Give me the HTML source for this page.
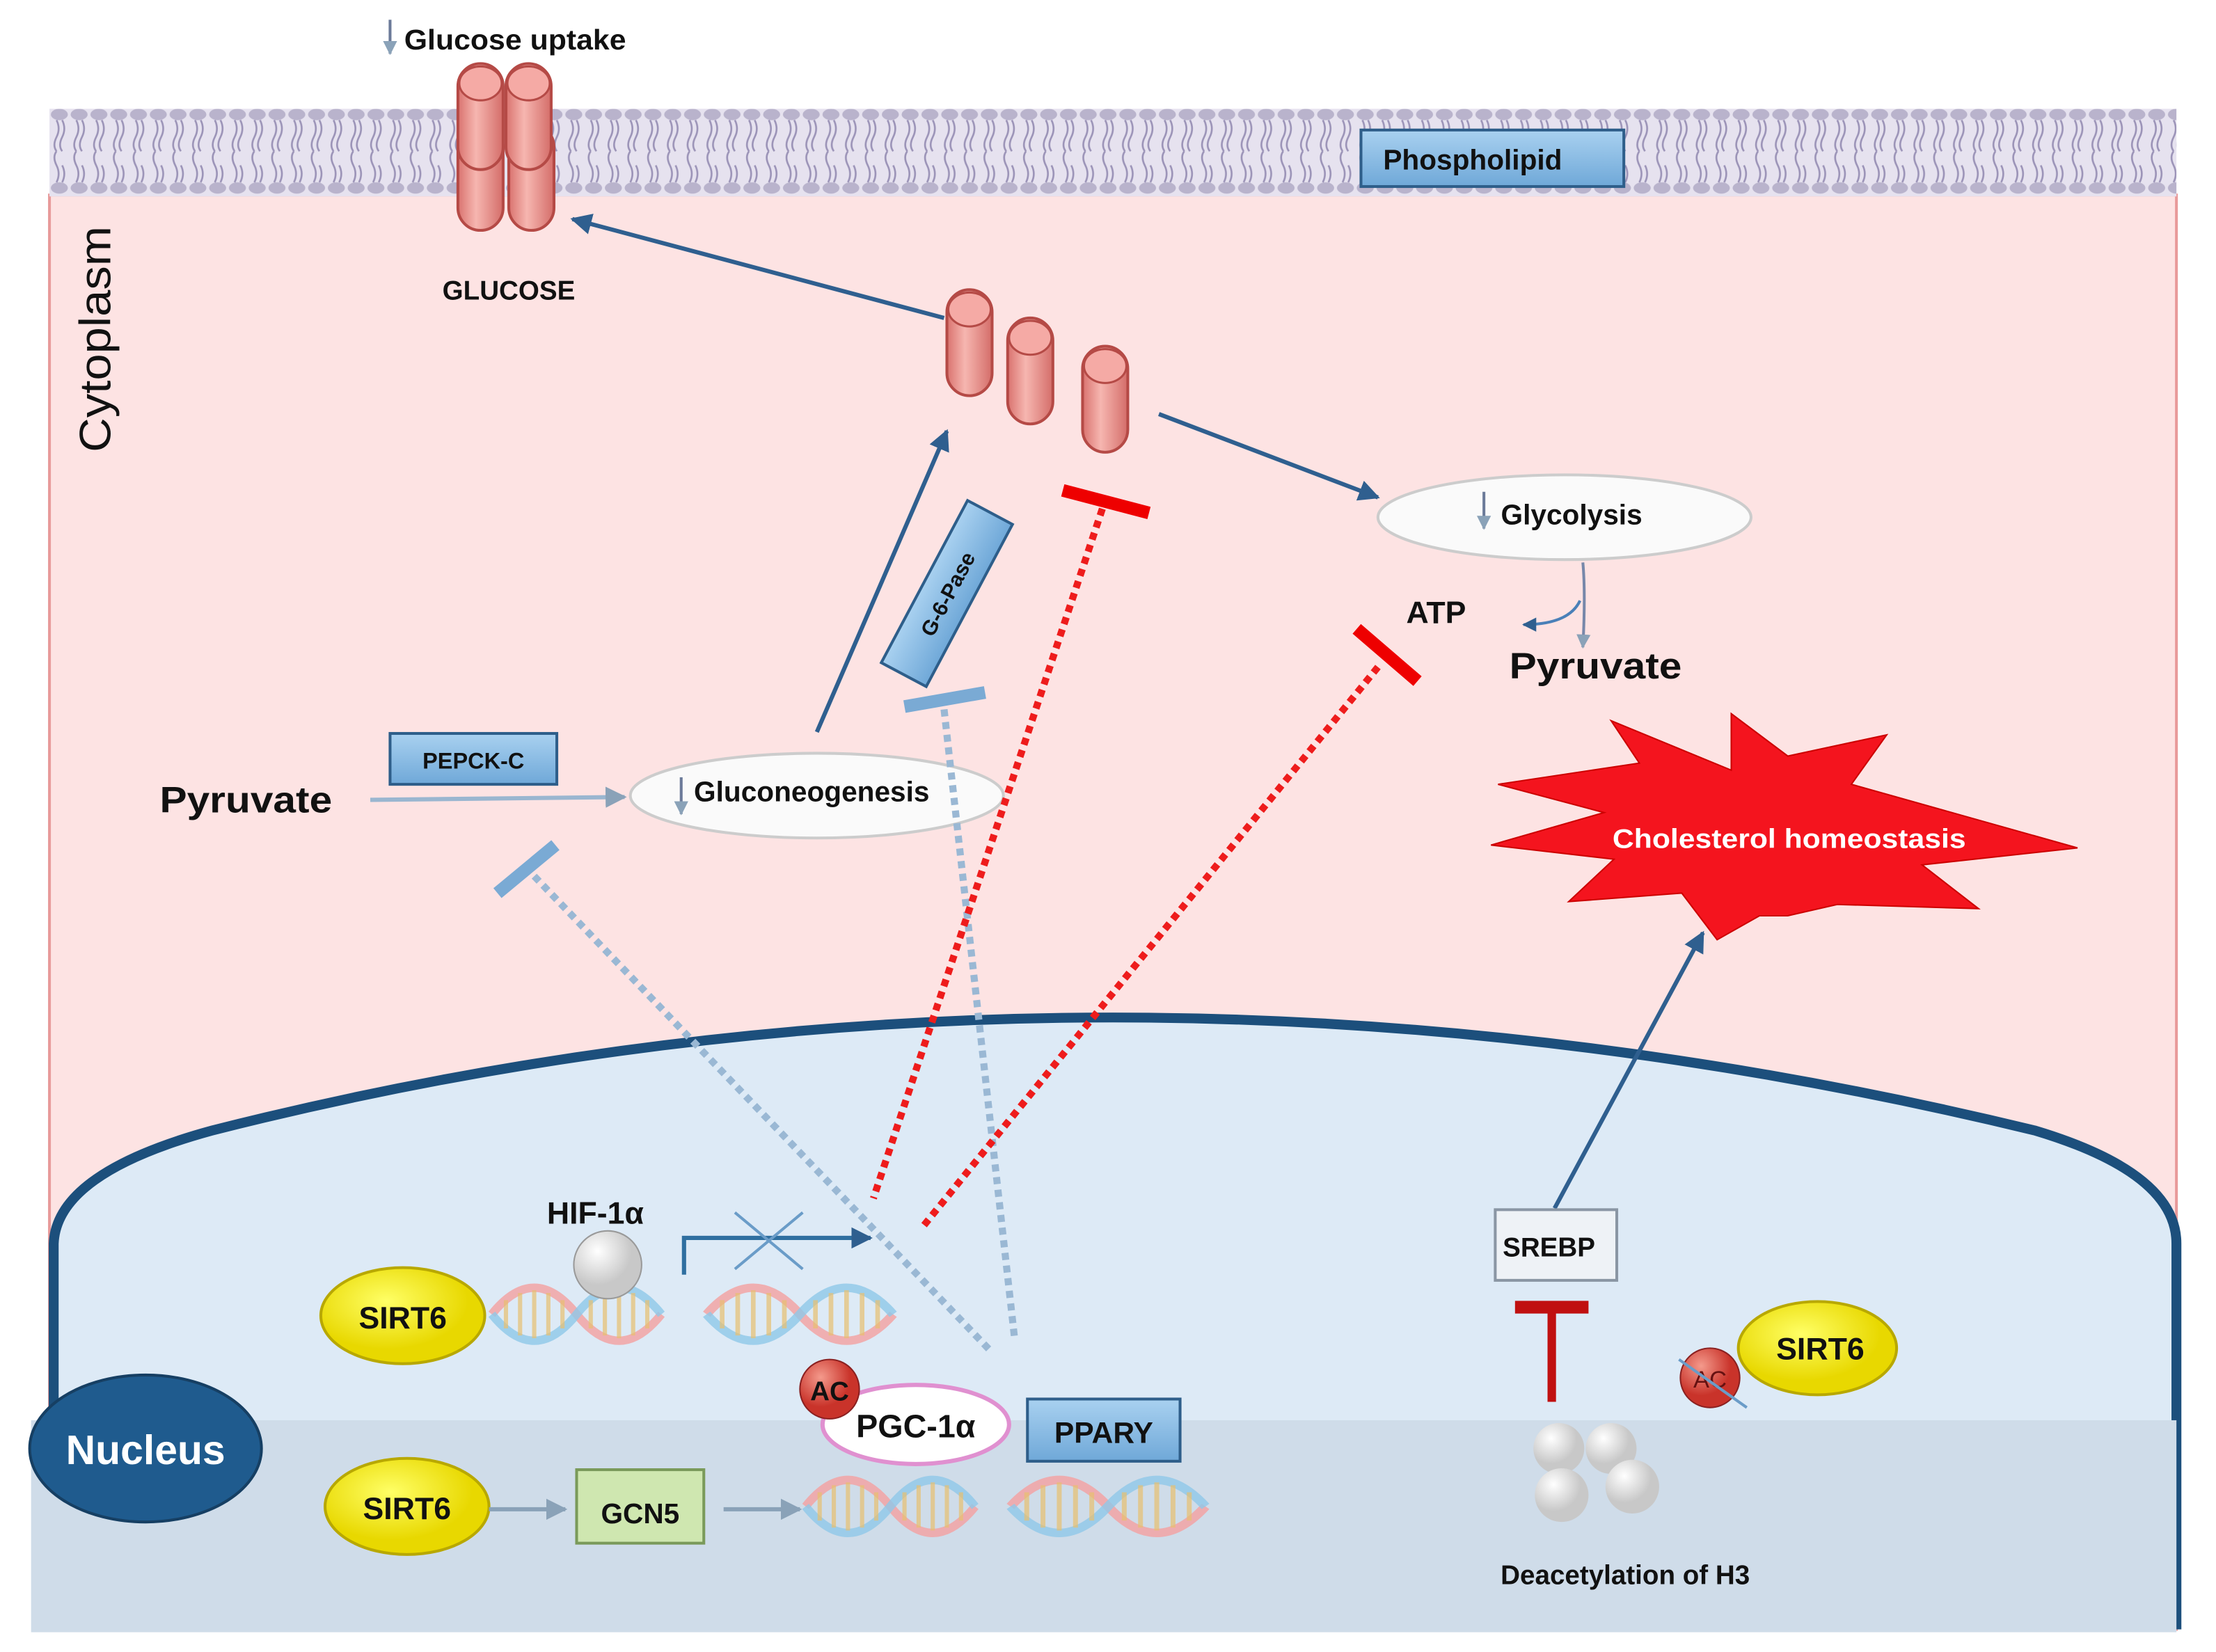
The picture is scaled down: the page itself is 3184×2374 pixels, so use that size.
<!DOCTYPE html>
<html><head><meta charset="utf-8"><style>
html,body{margin:0;padding:0;background:#fff}
svg{display:block}
text{font-family:"Liberation Sans",sans-serif}
.b{font-weight:bold}
</style></head><body>
<svg width="3184" height="2374" viewBox="0 0 1568 1169" preserveAspectRatio="none" xmlns="http://www.w3.org/2000/svg">
<defs>
<pattern id="lip" x="35" y="75" width="14" height="64" patternUnits="userSpaceOnUse">
<rect width="14" height="64" fill="#e6e2ef"/>
<ellipse cx="7" cy="6" rx="6" ry="4" fill="#b9b3cc"/>
<ellipse cx="7" cy="58" rx="6" ry="4" fill="#b9b3cc"/>
<path d="M5 10 q3 6 0 12 q-3 6 0 10 M9 10 q3 6 0 12 q-3 6 0 10 M5 54 q3-6 0-12 q-3-6 0-10 M9 54 q3-6 0-12" stroke="#9c94b8" stroke-width="1.3" fill="none"/>
</pattern>
<linearGradient id="cyl" x1="0" x2="1"><stop offset="0" stop-color="#d9726e"/><stop offset="0.4" stop-color="#f6b6b0"/><stop offset="1" stop-color="#d46d69"/></linearGradient>
<linearGradient id="blu" x1="0" y1="0" x2="0" y2="1"><stop offset="0" stop-color="#a9d1f0"/><stop offset="1" stop-color="#6fa8d8"/></linearGradient>
<radialGradient id="yel" cx="0.4" cy="0.35"><stop offset="0" stop-color="#ffff66"/><stop offset="1" stop-color="#e8d800"/></radialGradient>
<radialGradient id="wb" cx="0.35" cy="0.3"><stop offset="0" stop-color="#fff"/><stop offset="1" stop-color="#c8c8c8"/></radialGradient>
<radialGradient id="rb" cx="0.35" cy="0.3"><stop offset="0" stop-color="#f49a8c"/><stop offset="1" stop-color="#c9332a"/></radialGradient>
<marker id="ar" viewBox="0 0 10 10" refX="9" refY="5" markerWidth="5" markerHeight="5" orient="auto"><path d="M0 0 L10 5 L0 10 z" fill="#2f5f8f"/></marker>
<marker id="ag" viewBox="0 0 10 10" refX="9" refY="5" markerWidth="5" markerHeight="5" orient="auto"><path d="M0 0 L10 5 L0 10 z" fill="#8aa2b8"/></marker>
<g id="dna">
<path d="M0 20 C20 -5 40 -5 60 20 S100 45 120 20" stroke="#f4a0a0" stroke-width="6" fill="none" opacity="0.8"/>
<path d="M0 20 C20 45 40 45 60 20 S100 -5 120 20" stroke="#8ec8e8" stroke-width="6" fill="none" opacity="0.8"/>
<path d="M10 10v20M20 5v30M30 3v34M40 5v30M50 10v20M70 10v20M80 5v30M90 3v34M100 5v30M110 10v20" stroke="#e8c070" stroke-width="3" opacity="0.7"/>
</g>
<g id="ch"><rect x="-16" y="0" width="32" height="75" rx="16" fill="url(#cyl)" stroke="#b54a46" stroke-width="2"/><ellipse cx="0" cy="14" rx="15" ry="12" fill="#f5aaa5" stroke="#b54a46" stroke-width="1.5"/></g>
</defs>
<rect width="1568" height="1169" fill="#fff"/>
<rect x="35" y="138" width="1505" height="1015" fill="#fde3e3" stroke="#e89a9a" stroke-width="2"/>
<rect x="35" y="77" width="1505" height="62" fill="url(#lip)"/>
<path d="M38 1153 L38 880 Q40 830 150 800 Q780 640 1440 800 Q1540 830 1540 880 L1540 1153" fill="#ddeaf6" stroke="#1c4f7c" stroke-width="7"/>
<rect x="22" y="1005" width="1518" height="150" fill="#cfdce9"/>
<ellipse cx="103" cy="1025" rx="82" ry="52" fill="#1f5b8e" stroke="#163f63" stroke-width="2"/>
<text x="103" y="1036" font-size="29" fill="#fff" class="b" text-anchor="middle">Nucleus</text>
<text x="78" y="240" font-size="31" fill="#111" text-anchor="middle" transform="rotate(-90 78 240)" textLength="160" lengthAdjust="spacingAndGlyphs">Cytoplasm</text>
<path d="M276 14 v24" stroke="#6b7a99" stroke-width="2" marker-end="url(#ag)"/>
<text x="286" y="35" font-size="20" class="b" fill="#111" textLength="157" lengthAdjust="spacingAndGlyphs">Glucose uptake</text>
<use href="#ch" x="340" y="88"/><use href="#ch" x="376" y="88"/>
<use href="#ch" x="340" y="45"/><use href="#ch" x="374" y="45"/>
<text x="360" y="212" font-size="19" class="b" text-anchor="middle" fill="#111">GLUCOSE</text>
<rect x="963" y="92" width="186" height="40" fill="url(#blu)" stroke="#2e5e8a" stroke-width="2"/>
<text x="1042" y="120" font-size="20" class="b" text-anchor="middle" fill="#111">Phospholipid</text>
<use href="#ch" x="686" y="205"/><use href="#ch" x="729" y="225"/><use href="#ch" x="782" y="245"/>
<path d="M668 225 L405 155" stroke="#2f5f8f" stroke-width="3" marker-end="url(#ar)"/>
<path d="M820 293 L975 352" stroke="#2f5f8f" stroke-width="3" marker-end="url(#ar)"/>
<path d="M578 518 L670 305" stroke="#2f5f8f" stroke-width="3" marker-end="url(#ar)"/>
<ellipse cx="1107" cy="366" rx="132" ry="30" fill="#fafafa" stroke="#ccc" stroke-width="2"/>
<path d="M1050 348 v26" stroke="#6b7a99" stroke-width="2" marker-end="url(#ag)"/>
<text x="1062" y="371" font-size="20" class="b" fill="#111">Glycolysis</text>
<path d="M1120 398 Q1122 420 1120 458" stroke="#7788aa" stroke-width="2" fill="none" marker-end="url(#ag)"/>
<path d="M1118 425 Q1110 442 1078 442" stroke="#4a80b8" stroke-width="2" fill="none" marker-end="url(#ar)"/>
<text x="995" y="441" font-size="22" class="b" fill="#111">ATP</text>
<text x="1068" y="480" font-size="26" class="b" fill="#111" textLength="122" lengthAdjust="spacingAndGlyphs">Pyruvate</text>
<g transform="translate(670 420) rotate(-62)"><rect x="-65" y="-18" width="130" height="36" fill="url(#blu)" stroke="#2e5e8a" stroke-width="2"/><text x="0" y="6" font-size="15" class="b" text-anchor="middle" fill="#111">G-6-Pase</text></g>
<path d="M640 500 L697 490" stroke="#7aaad4" stroke-width="9"/>
<text x="113" y="575" font-size="26" class="b" fill="#111" textLength="122" lengthAdjust="spacingAndGlyphs">Pyruvate</text>
<rect x="276" y="519" width="118" height="36" fill="url(#blu)" stroke="#2e5e8a" stroke-width="2"/>
<text x="335" y="544" font-size="16" class="b" text-anchor="middle" fill="#111">PEPCK-C</text>
<path d="M262 566 L442 564" stroke="#9ab6d0" stroke-width="3" marker-end="url(#ag)"/>
<ellipse cx="578" cy="563" rx="132" ry="30" fill="#fafafa" stroke="#ccc" stroke-width="2"/>
<path d="M482 550 v26" stroke="#6b7a99" stroke-width="2" marker-end="url(#ag)"/>
<text x="491" y="567" font-size="20" class="b" fill="#111">Gluconeogenesis</text>
<path d="M352 632 L393 598" stroke="#7aaad4" stroke-width="9"/>
<path d="M378 620 L700 955" stroke="#9ab8d4" stroke-width="5" stroke-dasharray="5 4"/>
<path d="M668 502 L718 948" stroke="#9ab8d4" stroke-width="5" stroke-dasharray="5 4"/>
<path d="M780 360 L618 848" stroke="#ee1c1c" stroke-width="5" stroke-dasharray="5 4"/>
<path d="M752 347 L813 363" stroke="#e00" stroke-width="9"/>
<path d="M975 472 L653 868" stroke="#ee1c1c" stroke-width="5" stroke-dasharray="5 4"/>
<path d="M960 445 L1003 482" stroke="#e00" stroke-width="9"/>
<polygon points="1135,575 1060,555 1160,540 1140,510 1225,545 1225,505 1265,535 1335,520 1310,555 1470,600 1360,612 1400,643 1300,640 1265,648 1245,648 1215,665 1190,632 1110,638 1142,608 1055,598" fill="#f4141e" stroke="#c00" stroke-width="1"/>
<text x="1266" y="600" font-size="19" class="b" text-anchor="middle" fill="#fff" textLength="250" lengthAdjust="spacingAndGlyphs">Cholesterol homeostasis</text>
<path d="M1100 855 L1205 660" stroke="#2f5f8f" stroke-width="3" marker-end="url(#ar)"/>
<use href="#dna" x="348" y="910"/><use href="#dna" x="500" y="910" transform="translate(500 910) scale(1.1 1) translate(-500 -910)"/>
<circle cx="430" cy="895" r="24" fill="url(#wb)" stroke="#999"/>
<text x="387" y="866" font-size="22" class="b" fill="#111">HIF-1α</text>
<path d="M484 902 V876 H616" stroke="#2f6fa0" stroke-width="3" fill="none" marker-end="url(#ar)"/>
<path d="M520 858 L568 898 M520 898 L568 858" stroke="#6a9cc8" stroke-width="2"/>
<ellipse cx="285" cy="931" rx="58" ry="34" fill="url(#yel)" stroke="#b8a800" stroke-width="2"/>
<text x="285" y="940" font-size="22" class="b" text-anchor="middle" fill="#111">SIRT6</text>
<ellipse cx="288" cy="1066" rx="58" ry="34" fill="url(#yel)" stroke="#b8a800" stroke-width="2"/>
<text x="288" y="1075" font-size="22" class="b" text-anchor="middle" fill="#111">SIRT6</text>
<path d="M346 1068 L400 1068" stroke="#8aa2b8" stroke-width="3" marker-end="url(#ag)"/>
<rect x="408" y="1040" width="90" height="52" fill="#cfe7b0" stroke="#7a9a5a" stroke-width="2"/>
<text x="453" y="1078" font-size="20" class="b" text-anchor="middle" fill="#111">GCN5</text>
<path d="M512 1068 L566 1068" stroke="#8aa2b8" stroke-width="3" marker-end="url(#ag)"/>
<use href="#dna" x="570" y="1046"/><use href="#dna" x="715" y="1046" transform="translate(715 1046) scale(1.15 1) translate(-715 -1046)"/>
<ellipse cx="648" cy="1008" rx="66" ry="28" fill="#fff" stroke="#e090d0" stroke-width="3"/>
<text x="648" y="1017" font-size="23" class="b" text-anchor="middle" fill="#111">PGC-1α</text>
<circle cx="587" cy="983" r="21" fill="url(#rb)" stroke="#8a2020"/>
<text x="587" y="991" font-size="19" class="b" text-anchor="middle" fill="#111">AC</text>
<rect x="727" y="990" width="108" height="44" fill="url(#blu)" stroke="#2e5e8a" stroke-width="2"/>
<text x="781" y="1021" font-size="21" class="b" text-anchor="middle" fill="#111">PPARY</text>
<rect x="1058" y="856" width="86" height="50" fill="#eef2f6" stroke="#8a96a4" stroke-width="2"/>
<text x="1096" y="889" font-size="19" class="b" text-anchor="middle" fill="#111">SREBP</text>
<path d="M1098 992 V925" stroke="#c01010" stroke-width="6"/>
<path d="M1072 925 H1124" stroke="#c01010" stroke-width="9"/>
<circle cx="1103" cy="1025" r="18" fill="url(#wb)"/><circle cx="1140" cy="1025" r="18" fill="url(#wb)"/>
<circle cx="1155" cy="1052" r="19" fill="url(#wb)"/><circle cx="1105" cy="1058" r="19" fill="url(#wb)"/>
<text x="1150" y="1121" font-size="19" class="b" text-anchor="middle" fill="#111">Deacetylation of H3</text>
<ellipse cx="1286" cy="954" rx="56" ry="33" fill="url(#yel)" stroke="#b8a800" stroke-width="2"/>
<text x="1288" y="962" font-size="22" class="b" text-anchor="middle" fill="#111">SIRT6</text>
<circle cx="1210" cy="975" r="21" fill="url(#rb)" stroke="#8a2020"/>
<text x="1210" y="982" font-size="17" text-anchor="middle" fill="#611">AC</text>
<path d="M1188 962 L1236 996" stroke="#6a9cc8" stroke-width="2"/>
</svg>
</body></html>
